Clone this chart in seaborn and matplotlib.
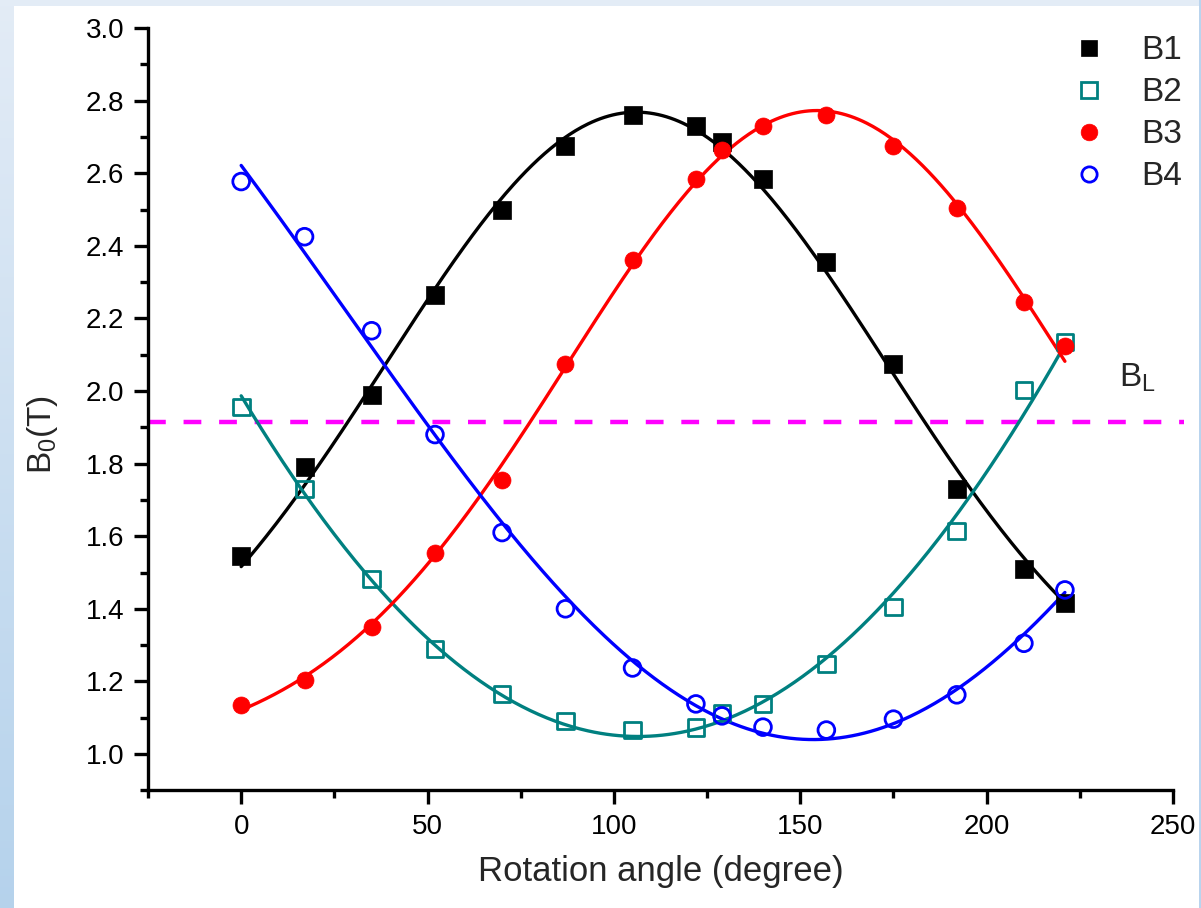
import numpy as np
import pandas as pd
import matplotlib
matplotlib.use("Agg")
import matplotlib.pyplot as plt
from matplotlib.lines import Line2D
from matplotlib.patches import Rectangle
from matplotlib.ticker import MultipleLocator, FormatStrFormatter
import seaborn as sns

# Measured field values versus rotation angle
angles = [0, 17, 35, 52, 70, 87, 105, 122, 129, 140, 157, 175, 192, 210, 221]
b1 = [1.545, 1.79, 1.99, 2.265, 2.50, 2.675, 2.76, 2.73, 2.685, 2.585, 2.355, 2.075, 1.73, 1.51, 1.415]
b2 = [1.956, 1.73, 1.482, 1.289, 1.165, 1.091, 1.066, 1.074, 1.113, 1.138, 1.248, 1.405, 1.614, 2.003, 2.135]
b3 = [1.135, 1.205, 1.35, 1.555, 1.755, 2.075, 2.36, 2.585, 2.665, 2.73, 2.76, 2.675, 2.505, 2.245, 2.125]
b4 = [2.577, 2.425, 2.166, 1.88, 1.61, 1.40, 1.237, 1.138, 1.105, 1.074, 1.066, 1.096, 1.163, 1.305, 1.452]
b_limit = 1.915

series_names = ["B1", "B2", "B3", "B4"]
series_values = [b1, b2, b3, b4]
colors = ["#000000", "#008080", "#ff0000", "#0000ff"]
markers = ["s", "s", "o", "o"]
filled = [True, False, True, False]

sns.set_theme(style="ticks")
plt.rcParams["font.family"] = ["Liberation Sans", "DejaVu Sans"]
plt.rcParams["mathtext.default"] = "regular"
plt.rcParams["xtick.labelsize"] = 20
plt.rcParams["ytick.labelsize"] = 20

fig = plt.figure(figsize=(12.01, 9.08), dpi=100)
fig.patch.set_facecolor("white")

# Light blue slide frame: gradient strip on the left, band on top, thin line on the right
ax_strip = fig.add_axes([0, 0, 13 / 1201, 1], zorder=-5)
grad = np.linspace(0, 1, 256).reshape(-1, 1)
top_c = np.array([0.890, 0.925, 0.965])
bot_c = np.array([0.710, 0.824, 0.925])
img = top_c[None, None, :] * (1 - grad[..., None]) + bot_c[None, None, :] * grad[..., None]
ax_strip.imshow(img, aspect="auto", extent=[0, 1, 0, 1])
ax_strip.set_axis_off()
fig.add_artist(Rectangle((0, 1 - 6 / 908), 1, 6 / 908, transform=fig.transFigure,
                         facecolor="#e3ecf6", edgecolor="none", zorder=-4))
fig.add_artist(Rectangle((1 - 2 / 1201, 0), 2 / 1201, 1, transform=fig.transFigure,
                         facecolor="#b9d4ee", edgecolor="none", zorder=-4))

ax = fig.add_axes([148 / 1201, 117.7 / 908, (1173 - 148) / 1201, (790.3 - 28) / 908])
ax.set_facecolor("white")


def gauss_fit(x, y, xs):
    """Least-squares Gaussian y = y0 + A*exp(-(x-xc)^2 / (2 w^2)), grid over xc and w."""
    x = np.asarray(x, float)
    y = np.asarray(y, float)
    xc = np.linspace(-50, 300, 701)[:, None, None]
    w = np.linspace(20, 300, 561)[None, :, None]
    g = np.exp(-((x[None, None, :] - xc) ** 2) / (2 * w ** 2))
    gm = g.mean(axis=2, keepdims=True)
    ym = y.mean()
    var = ((g - gm) ** 2).sum(axis=2)
    cov = ((g - gm) * (y - ym)).sum(axis=2)
    amp = cov / np.where(var > 1e-12, var, np.inf)
    base = ym - amp * gm[..., 0]
    resid = ((base[..., None] + amp[..., None] * g - y) ** 2).sum(axis=2)
    i, j = np.unravel_index(np.argmin(resid), resid.shape)
    c, s = xc[i, 0, 0], w[0, j, 0]
    return base[i, j] + amp[i, j] * np.exp(-((xs - c) ** 2) / (2 * s ** 2))


# Fitted curve for each measured series
xs = np.linspace(min(angles), max(angles), 400)
for name, vals, col in zip(series_names, series_values, colors):
    fit = pd.DataFrame({"angle": xs, "field": gauss_fit(angles, vals, xs)})
    sns.lineplot(data=fit, x="angle", y="field", color=col, linewidth=2.4, ax=ax,
                 zorder=2, legend=False)

for name, vals, col, mk, fl in zip(series_names, series_values, colors, markers, filled):
    df = pd.DataFrame({"angle": angles, "field": vals})
    if fl:
        sns.scatterplot(data=df, x="angle", y="field", marker=mk, s=150, color=col,
                        edgecolor=col, linewidth=0.5, ax=ax, zorder=3, legend=False)
    else:
        sns.scatterplot(data=df, x="angle", y="field", marker=mk, s=145, facecolor="none",
                        edgecolor=col, linewidth=2.0, ax=ax, zorder=3, legend=False)

# Critical field line
ax.plot([-25, 253], [b_limit, b_limit], color="#ff00ff", linewidth=3.2,
        dashes=(4, 4), clip_on=False, zorder=1)
ax.text(235.6, 2.011, "B$_L$", fontsize=24, ha="left", va="baseline")

ax.set_xlim(-25, 250)
ax.set_ylim(0.9, 3.0)
ax.xaxis.set_major_locator(MultipleLocator(50))
ax.xaxis.set_minor_locator(MultipleLocator(25))
ax.yaxis.set_major_locator(MultipleLocator(0.2))
ax.yaxis.set_minor_locator(MultipleLocator(0.1))
ax.yaxis.set_major_formatter(FormatStrFormatter("%.1f"))

for side in ["top", "right"]:
    ax.spines[side].set_visible(False)
for side in ["left", "bottom"]:
    ax.spines[side].set_linewidth(2.4)
    ax.spines[side].set_color("black")

ax.tick_params(which="major", direction="out", length=10, width=2.4,
               pad=7, colors="black", labelsize=20)
ax.tick_params(which="minor", direction="out", length=5.5, width=2.4, colors="black")

ax.set_xlabel("Rotation angle (degree)", fontsize=25, labelpad=11)
ax.set_ylabel("B$_0$(T)", fontsize=24)
ax.yaxis.set_label_coords(-0.086, 0.467)

handles = []
for name, col, mk, fl in zip(series_names, colors, markers, filled):
    handles.append(Line2D([], [], linestyle="none", marker=mk, markersize=12 if fl else 11,
                          markerfacecolor=col if fl else "none", markeredgecolor=col,
                          markeredgewidth=0.5 if fl else 2.0, label=name))
leg = ax.legend(handles=handles, loc="upper right", bbox_to_anchor=(1195 / 1201, 1 - 22 / 908),
                bbox_transform=fig.transFigure, frameon=False, fontsize=24,
                handletextpad=0.8, labelspacing=0.33, handlelength=1.5, borderaxespad=0)

fig.savefig("out.png", dpi=100, facecolor=fig.get_facecolor())
